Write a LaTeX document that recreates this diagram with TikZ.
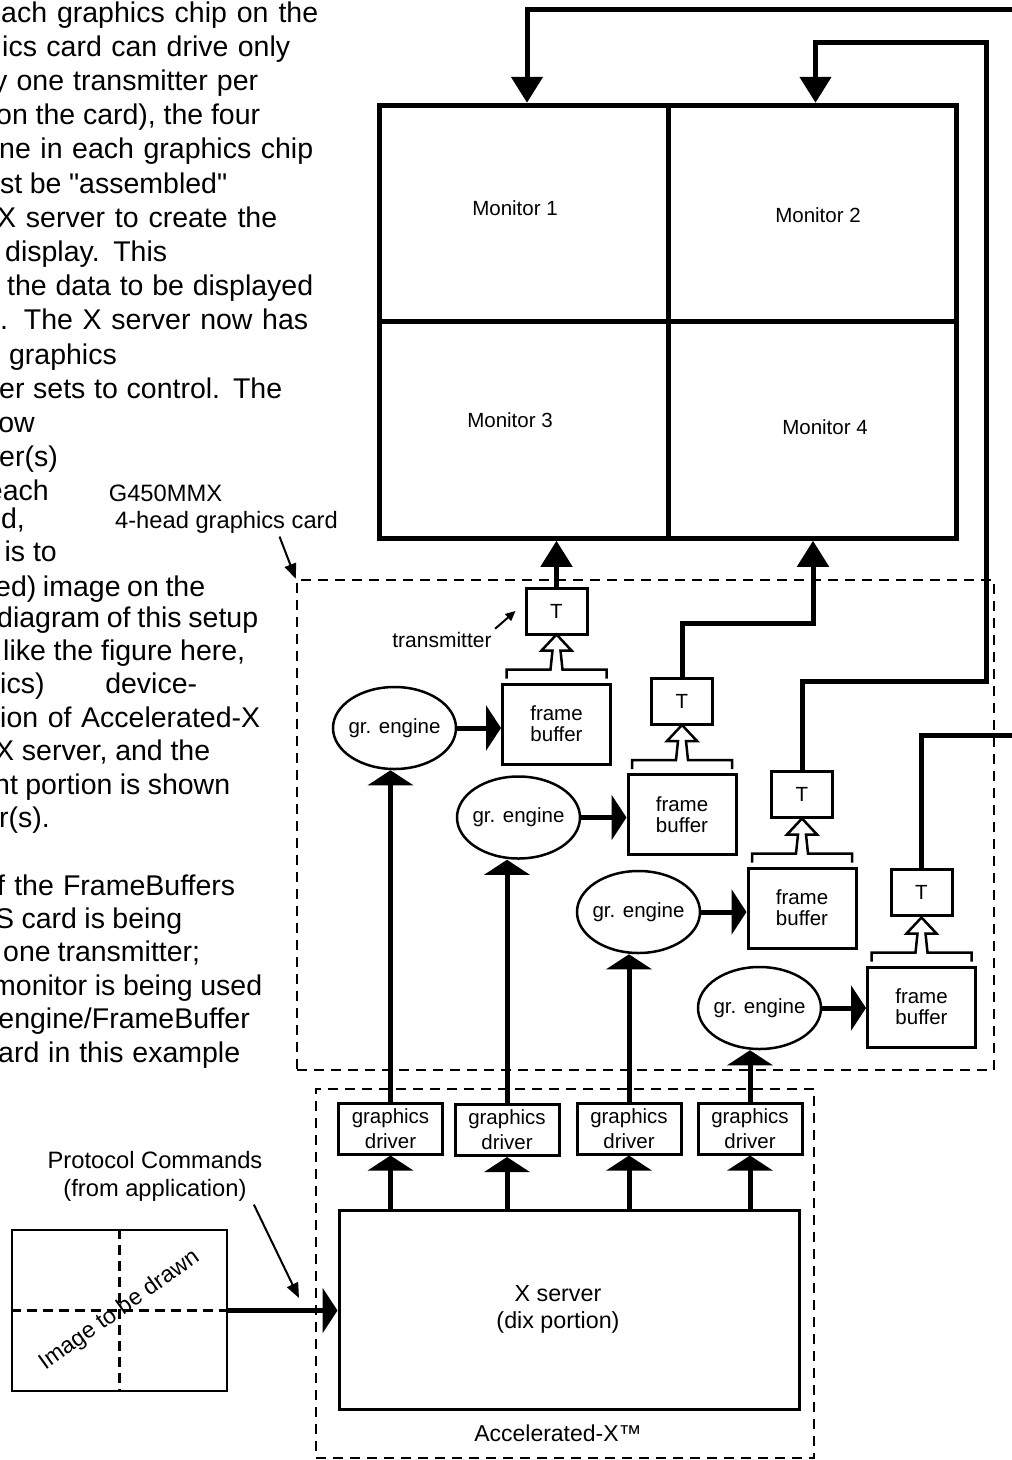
\documentclass[tikz,border=0pt]{standalone}
\usepackage{fontspec}
\setmainfont{Liberation Sans}[Ligatures=TeXOff]
\usetikzlibrary{arrows.meta, calc, positioning, shapes.geometric}

% hollow arrow from a frame buffer up to its transmitter
\newcommand{\fbout}[1]{%
  \draw[hollowline] ($(#1.north)+(-50,-4)$) -- ++(0,-9) -- ++(44,0) -- ++(2,-19)
    -- ++(-11,0) -- ++(15,-16) -- ++(15,16) -- ++(-11,0) -- ++(2,19) -- ++(44,0) -- ++(0,9);}

\begin{document}
\begin{tikzpicture}[x=1pt, y=-1pt,
  lab/.style={font=\fontsize{20.5}{24}\selectfont, align=center},
  note/.style={font=\fontsize{23.7}{28}\selectfont, align=center},
  para/.style={font=\fontsize{28.5}{33}\selectfont, anchor=base west, inner sep=0pt},
  paraend/.style={font=\fontsize{28.5}{33}\selectfont, anchor=base east, inner sep=0pt},
  monitor/.style={draw, line width=5pt, minimum width=288.5pt, minimum height=216.5pt, inner sep=0pt},
  tbox/.style={draw, line width=3pt, minimum width=61pt, minimum height=46pt, inner sep=0pt, lab},
  fbox/.style={draw, line width=3pt, minimum width=108pt, minimum height=80pt, inner sep=0pt, lab},
  gbox/.style={draw, line width=3pt, minimum width=104pt, minimum height=51pt, inner sep=0pt,
    font=\fontsize{20.5}{25}\selectfont, align=center},
  engine/.style={ellipse, draw, line width=2.5pt, minimum width=123pt, minimum height=82pt, inner sep=0pt},
  dashframe/.style={draw, dash pattern=on 10pt off 7pt, line width=2.5pt, inner sep=0pt},
  dashline/.style={dash pattern=on 10pt off 6pt, line width=2.5pt},
  bigarrow/.style={line width=5pt, -{Triangle[length=15pt,width=45pt]}},
  monarrow/.style={line width=5pt, -{Triangle[length=26pt,width=31pt]}},
  feedline/.style={line width=5pt},
  hollowline/.style={line width=2.5pt},
  thinarrow/.style={line width=2pt, -{Triangle[length=15pt,width=12pt]}},
]
\useasboundingbox (0,0) rectangle (1012,1460);

% text column, cut off at the left
\node[para] (p0) at (1,22) {\makebox[317pt][s]{ach graphics chip on the}};
\node[para] (p1) at (2,56.2) {\makebox[288pt][s]{ics card can drive only}};
\node[para] (p2) at (-7,90.4) {\makebox[265pt][s]{y one transmitter per}};
\node[para] (p3) at (-4,124.6) {\makebox[264pt][s]{on the card), the four}};
\node[para] (p4) at (-1,158.8) {\makebox[314pt][s]{ne in each graphics chip}};
\node[para] (p5) at (0,193) {\makebox[227pt][s]{st be "assembled"}};
\node[para] (p6) at (-3,227.2) {\makebox[280pt][s]{X server to create the}};
\node[para] (p7) at (5,261.4) {\makebox[162pt][s]{display. This}};
\node[para] (p8) at (7,295.6) {\makebox[306pt][s]{the data to be displayed}};
\node[para] (p9) at (0,329.8) {\makebox[308pt][s]{. The X server now has}};
\node[paraend] (p10) at (117,364) {graphics};
\node[para] (p11) at (-1,398.2) {\makebox[283pt][s]{er sets to control. The}};
\node[paraend] (p12) at (35,432.4) {ow};
\node[paraend] (p13) at (58,466.6) {er(s)};
\node[paraend] (p14) at (49,500.8) {each};
\node[paraend] (p15) at (25,528) {d,};
\node[paraend] (p16) at (57,561) {is to};
\node[para] (p17) at (-5,596) {\makebox[210pt][s]{ed) image on the}};
\node[para] (p18) at (-3,627) {\makebox[261pt][s]{diagram of this setup}};
\node[para] (p19) at (3,660) {\makebox[242pt][s]{like the figure here,}};
\node[para] (p20) at (0,693) {\makebox[197pt][s]{ics) device-}};
\node[para] (p21) at (0,727) {\makebox[260pt][s]{ion of Accelerated-X}};
\node[para] (p22) at (-5,760) {\makebox[215pt][s]{X server, and the}};
\node[para] (p23) at (-6,794) {\makebox[236pt][s]{nt portion is shown}};
\node[paraend] (p24) at (50,827) {r(s).};
\node[para] (p26) at (-3,895) {\makebox[238pt][s]{f the FrameBuffers}};
\node[para] (p27) at (-5,928) {\makebox[187pt][s]{S card is being}};
\node[para] (p28) at (3,961) {\makebox[197pt][s]{one transmitter;}};
\node[para] (p29) at (-8,995) {\makebox[270pt][s]{monitor is being used}};
\node[paraend] (p30) at (250,1028) {engine/FrameBuffer};
\node[para] (p31) at (-2,1062) {\makebox[242pt][s]{ard in this example}};

% dashed frames
\node[dashframe, minimum width=697pt, minimum height=490pt] (card) at (645.5,825) {};
\node[dashframe, minimum width=498pt, minimum height=369pt] (accel) at (565,1273.5) {};
\node[note] (cardname) at (165.5,493) {G450MMX};
\node[note] (cardtype) at (226.5,522) {4-head graphics card};
\draw[thinarrow] ([xshift=53pt]cardtype.south) -- (card.north west);
\node[note, font=\fontsize{23}{28}\selectfont] (acclabel) at (558,1433) {Accelerated-X™};

% monitors
\node[monitor] (mon1) at (524,213.5) {};
\node[monitor] (mon2) at (812.5,213.5) {};
\node[monitor] (mon3) at (524,430) {};
\node[monitor] (mon4) at (812.5,430) {};
\node[lab] (lab1) at (515,208) {Monitor 1};
\node[lab] (lab2) at (818,215) {Monitor 2};
\node[lab] (lab3) at (510,420) {Monitor 3};
\node[lab] (lab4) at (825,427) {Monitor 4};

% engines, frame buffers, transmitters
\node[engine, label={[lab]center:gr. engine}] (ge1) at (394.5,728) {};
\node[engine, label={[lab]center:gr. engine}] (ge2) at (518.5,817.5) {};
\node[engine, label={[lab]center:gr. engine}] (ge3) at (638.5,912) {};
\node[engine, label={[lab]center:gr. engine}] (ge4) at (759.5,1008) {};
\node[fbox] (fb1) at (556.5,724) {frame\\[-3pt]buffer};
\node[fbox] (fb2) at (682,814.5) {frame\\[-3pt]buffer};
\node[fbox] (fb3) at (802,908) {frame\\[-3pt]buffer};
\node[fbox] (fb4) at (921.5,1007) {frame\\[-3pt]buffer};
\node[tbox] (t1) at (556.5,611) {T};
\node[tbox] (t2) at (682,701) {T};
\node[tbox] (t3) at (802,794.5) {T};
\node[tbox] (t4) at (921.5,892.5) {T};
\node[lab, font=\fontsize{21}{24}\selectfont] (txlabel) at (442,640) {transmitter};
\draw[line width=2pt, -{Triangle[length=10pt,width=9pt]}] (txlabel.north east) -- ([xshift=-9pt]t1.west);

\foreach \n in {1,2,3,4} {
  \draw[bigarrow] (ge\n.east) -- (ge\n.east -| fb\n.west);
  \fbout{fb\n}
}

% drivers and X server
\node[gbox] (gd1) at (390.5,1128.5) {graphics\\driver};
\node[gbox] (gd2) at (507,1130) {graphics\\driver};
\node[gbox] (gd3) at (629,1128.5) {graphics\\driver};
\node[gbox] (gd4) at (750,1128.5) {graphics\\driver};
\node[draw, line width=3pt, minimum width=460pt, minimum height=199pt,
  label={[font=\fontsize{23.3}{27}\selectfont, align=center, xshift=-11pt]center:X server\\(dix portion)}] (xserver) at (569,1309.5) {};

\foreach \n in {1,2,3,4} {
  \draw[bigarrow] (gd\n.south |- xserver.north) -- (gd\n.south);
  \draw[bigarrow] (gd\n.north) -- (gd\n.north |- ge\n.south);
}

% outputs to the monitors
\coordinate (feedA) at (1020,9);
\coordinate (riserB) at (986,681);
\coordinate (topB) at (986,42);
\coordinate (riserD) at (813,623);
\coordinate (feedE) at (1020,735);
\draw[monarrow] (feedA) -| ([xshift=3pt]mon1.north);
\draw[monarrow] (t3.north) |- (riserB) -- (topB) -| ([xshift=3pt]mon2.north);
\draw[monarrow] (t1.north) -- (t1.north |- mon3.south);
\draw[monarrow] (t2.north) |- (riserD) -- (riserD |- mon4.south);
\draw[feedline] (t4.north) |- (feedE);

% image to be drawn
\node[draw, line width=2.5pt, minimum width=215pt, minimum height=161pt, inner sep=0pt] (image) at (119.5,1310.5) {};
\draw[dashline] (image.north) -- (image.south);
\draw[dashline] (image.west) -- (image.east);
\node[rotate=35.5, font=\fontsize{23}{26}\selectfont] (imgtext) at (image.center) {Image to be drawn};
\draw[bigarrow] (image.east) -- (image.east -| xserver.west);
\node[note] (proto) at (155,1176) {Protocol Commands\\(from application)};
\coordinate (protoin) at (299,1298);
\draw[thinarrow] ([xshift=-12pt]proto.south east) -- (protoin);

\end{tikzpicture}
\end{document}
